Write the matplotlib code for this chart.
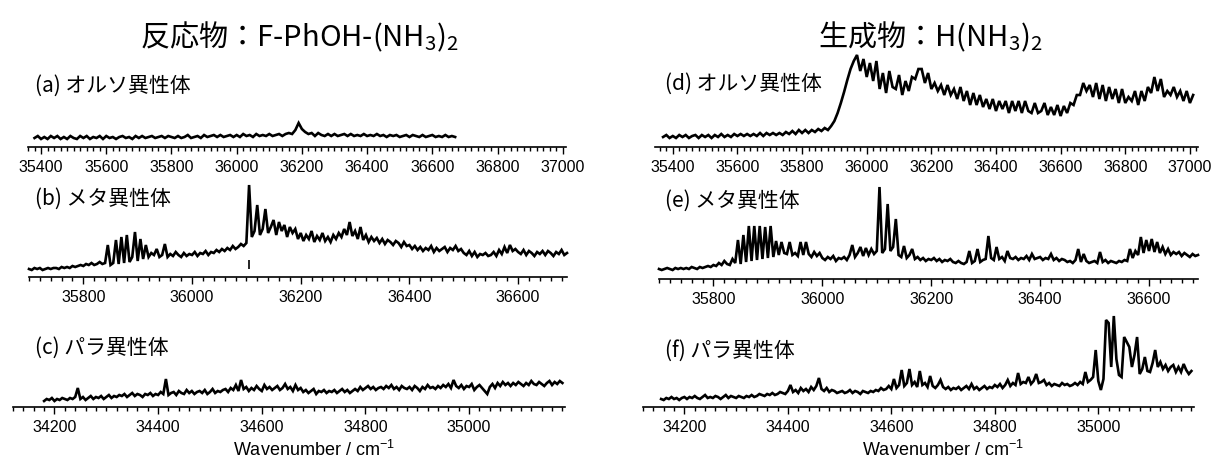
import matplotlib

matplotlib.use("Agg")

import matplotlib.pyplot as plt
import numpy as np
from matplotlib.ticker import MultipleLocator

JP = ["Noto Sans CJK JP", "DejaVu Sans"]
LAT = ["Liberation Sans", "DejaVu Sans"]

# ---- data: intensities (arbitrary units) ----
# (a) ortho, reactant
a_start, a_step = 35380, 10
a_vals = [
    9, 11, 8, 10, 8, 11, 9, 11, 8, 10,
    8, 11, 9, 8, 11, 9, 11, 8, 10, 9,
    11, 8, 11, 9, 10, 8, 10, 11, 9, 10,
    8, 11, 9, 11, 9, 10, 11, 9, 10, 11,
    9, 11, 10, 9, 11, 9, 10, 12, 9, 10,
    11, 9, 12, 10, 11, 12, 10, 12, 10, 11,
    12, 10, 12, 10, 13, 11, 12, 10, 13, 11,
    12, 11, 13, 11, 12, 13, 11, 13, 14, 13,
    17, 24, 18, 15, 13, 14, 11, 14, 12, 11,
    13, 11, 13, 11, 12, 13, 11, 13, 11, 12,
    11, 13, 11, 12, 11, 13, 11, 12, 10, 12,
    11, 12, 10, 11, 12, 10, 12, 11, 10, 12,
    10, 11, 12, 10, 11, 10, 12, 10, 11, 10,
]

# (b) meta, reactant
b_start, b_step = 35700, 5
b_vals = [
    8, 7, 9, 8, 9, 7, 8, 9, 8, 9,
    9, 8, 10, 9, 10, 9, 11, 10, 11, 12,
    11, 13, 12, 14, 12, 13, 15, 13, 14, 32,
    12, 14, 37, 13, 40, 14, 42, 15, 20, 45,
    16, 38, 18, 32, 20, 24, 22, 28, 20, 22,
    33, 20, 23, 21, 25, 22, 20, 24, 21, 23,
    22, 25, 21, 24, 23, 26, 22, 25, 24, 27,
    25, 28, 26, 29, 27, 31, 28, 30, 33, 31,
    34, 92, 40, 46, 72, 42, 48, 68, 44, 50,
    57, 42, 55, 46, 52, 40, 50, 44, 48, 38,
    44, 36, 42, 38, 46, 35, 41, 37, 44, 36,
    40, 35, 42, 38, 44, 40, 48, 42, 55, 41,
    46, 38, 50, 37, 42, 35, 40, 36, 39, 34,
    38, 33, 37, 35, 32, 36, 34, 30, 35, 31,
    32, 28, 31, 27, 30, 26, 29, 27, 31, 25,
    29, 26, 28, 30, 25, 29, 27, 31, 26, 28,
    24, 22, 26, 21, 25, 20, 23, 22, 24, 21,
    22, 25, 21, 27, 23, 30, 24, 32, 26, 28,
    25, 23, 27, 22, 26, 24, 21, 25, 23, 26,
    22, 26, 24, 21, 25, 23, 27, 22, 24,
]
b_marker = 36105

# (c) para, reactant
c_start, c_step = 34180, 5
c_vals = [
    6, 8, 7, 9, 6, 8, 7, 9, 8, 7,
    9, 8, 10, 19, 8, 10, 7, 9, 11, 8,
    10, 9, 11, 8, 10, 12, 9, 11, 10, 12,
    11, 13, 10, 12, 14, 11, 13, 12, 10, 13,
    12, 14, 11, 13, 12, 15, 13, 28, 12, 14,
    15, 12, 16, 14, 13, 17, 14, 16, 13, 15,
    16, 14, 17, 13, 15, 18, 14, 16, 15, 17,
    18, 15, 19, 17, 22, 16, 27, 18, 20, 16,
    19, 17, 21, 18, 16, 22, 18, 20, 17, 19,
    21, 17, 19, 23, 18, 20, 16, 22, 17, 19,
    15, 17, 14, 16, 18, 13, 16, 15, 17, 14,
    16, 15, 17, 14, 16, 18, 15, 17, 14, 16,
    18, 16, 20, 17, 19, 21, 18, 20, 17, 19,
    20, 18, 21, 19, 22, 18, 20, 17, 21, 19,
    18, 20, 17, 21, 19, 16, 20, 18, 22, 19,
    20, 18, 21, 19, 22, 20, 23, 19, 27, 21,
    19, 22, 18, 21, 20, 23, 17, 20, 22, 19,
    16, 13, 20, 23, 19, 24, 21, 25, 22, 24,
    21, 24, 22, 25, 23, 21, 24, 22, 26, 23,
    22, 25, 23, 21, 24, 26, 22, 25, 23, 26,
    24,
]

# (d) ortho, product
d_start, d_step = 35370, 10
d_vals = [
    10, 12, 9, 11, 9, 12, 10, 12, 9, 11,
    12, 9, 12, 10, 12, 9, 12, 10, 13, 10,
    12, 10, 13, 11, 13, 11, 13, 11, 13, 11,
    14, 11, 14, 12, 14, 12, 14, 12, 15, 13,
    16, 13, 17, 14, 17, 14, 17, 15, 18, 16,
    19, 17, 21, 26, 34, 44, 55, 67, 78, 86,
    92, 76, 88, 70, 84, 66, 86, 58, 74, 54,
    76, 60, 58, 72, 52, 66, 56, 70, 68, 78,
    78, 64, 74, 58, 64, 56, 62, 52, 62, 52,
    58, 48, 60, 46, 56, 42, 54, 42, 52, 40,
    48, 38, 48, 36, 46, 38, 46, 34, 46, 36,
    46, 34, 46, 36, 34, 44, 34, 36, 44, 32,
    40, 32, 42, 31, 41, 34, 44, 42, 52, 52,
    64, 56, 62, 50, 64, 48, 62, 46, 60, 48,
    58, 44, 58, 44, 50, 46, 56, 42, 56, 46,
    60, 54, 70, 56, 68, 50, 56, 52, 60, 50,
    56, 46, 56, 44, 52,
]

# (e) meta, product
e_start, e_step = 35700, 5
e_vals = [
    10, 9, 10, 11, 10, 9, 11, 10, 11, 10,
    11, 10, 12, 11, 10, 12, 11, 12, 13, 12,
    14, 13, 16, 14, 18, 15, 14, 20, 16, 39,
    15, 44, 17, 53, 18, 53, 19, 53, 20, 52,
    21, 53, 22, 38, 24, 37, 26, 25, 37, 24,
    26, 23, 37, 24, 37, 25, 22, 27, 23, 26,
    21, 19, 22, 20, 23, 18, 21, 20, 22, 19,
    24, 34, 22, 26, 32, 23, 31, 24, 30, 25,
    28, 92, 26, 30, 75, 28, 32, 60, 24, 22,
    33, 21, 24, 30, 20, 22, 19, 21, 18, 20,
    19, 21, 18, 20, 17, 19, 18, 20, 17, 16,
    18, 16, 15, 17, 28, 16, 18, 30, 17, 19,
    20, 43, 21, 19, 32, 20, 22, 18, 28, 21,
    20, 22, 19, 21, 20, 23, 19, 25, 20, 21,
    22, 19, 21, 20, 25, 19, 21, 18, 20, 19,
    17, 18, 16, 19, 30, 17, 25, 18, 16, 17,
    18, 16, 27, 17, 19, 16, 18, 17, 16, 18,
    17, 19, 18, 30, 21, 28, 24, 42, 26, 39,
    28, 40, 27, 37, 26, 32, 25, 30, 24, 27,
    25, 27, 23, 26, 24, 22, 25, 23, 24,
]

# (f) para, product
f_start, f_step = 34155, 5
f_vals = [
    8, 7, 9, 8, 10, 8, 9, 7, 9, 10,
    8, 10, 9, 11, 9, 8, 10, 12, 9, 10,
    9, 11, 10, 8, 10, 12, 9, 11, 10, 9,
    11, 10, 9, 11, 10, 12, 10, 11, 13, 12,
    11, 13, 12, 14, 12, 13, 15, 14, 13, 16,
    22, 15, 17, 14, 19, 16, 18, 15, 20, 17,
    21, 29, 18, 16, 19, 15, 17, 16, 14, 15,
    16, 14, 15, 17, 14, 16, 15, 13, 16, 15,
    14, 16, 15, 17, 16, 19, 17, 18, 21, 18,
    28, 19, 22, 37, 21, 24, 38, 22, 25, 20,
    36, 22, 24, 20, 31, 21, 19, 22, 27, 20,
    18, 20, 17, 19, 18, 20, 17, 19, 21, 18,
    23, 18, 20, 17, 19, 21, 18, 20, 19, 22,
    20, 23, 19, 22, 27, 21, 24, 22, 34, 23,
    25, 24, 30, 23, 26, 33, 24, 25, 27, 22,
    24, 21, 23, 22, 21, 24, 22, 23, 21, 22,
    24, 22, 25, 23, 35, 25, 27, 30, 57, 26,
    17, 28, 87, 84, 40, 91, 48, 32, 30, 70,
    65, 60, 40, 52, 70, 33, 38, 50, 36, 35,
    44, 57, 40, 45, 38, 42, 36, 40, 42, 35,
    40, 35, 43, 37, 33, 36,
]

titles = ["反応物：F-PhOH-(NH$_{\\mathregular{3}}$)$_{\\mathregular{2}}$",
          "生成物：H(NH$_{\\mathregular{3}}$)$_{\\mathregular{2}}$"]
labels = ["(a) オルソ異性体", "(b) メタ異性体", "(c) パラ異性体",
          "(d) オルソ異性体", "(e) メタ異性体", "(f) パラ異性体"]
xlabel = "Wavenumber / cm$^{\\mathregular{-1}}$"

W, H = 1214, 459


def px_axes(fig, left, right, base, top):
    return fig.add_axes([left / W, 1 - base / H, (right - left) / W, (base - top) / H])


def style(ax, xlim, height):
    ax.set_xlim(*xlim)
    ax.set_ylim(0, height)
    for s in ("left", "right", "top"):
        ax.spines[s].set_visible(False)
    ax.spines["bottom"].set_linewidth(1.2)
    ax.set_yticks([])
    ax.xaxis.set_major_locator(MultipleLocator(200))
    ax.xaxis.set_minor_locator(MultipleLocator(20))
    ax.tick_params(axis="x", which="major", length=5, width=1, pad=4, labelsize=11.5)
    ax.tick_params(axis="x", which="minor", length=3, width=1)
    for t in ax.get_xticklabels():
        t.set_family(LAT)
    ax.patch.set_alpha(0)


def spectrum(ax, start, step, vals):
    x = start + step * np.arange(len(vals))
    ax.plot(x, vals, color="black", lw=1.9, clip_on=False, solid_joinstyle="miter")


fig = plt.figure(figsize=(W / 100, H / 100), dpi=100)

panels = [
    # left, right, base, top, xlim, start, step, vals
    (28, 566, 147, 100, (35360, 37010), a_start, a_step, a_vals),
    (29, 567, 277, 176, (35700, 36690), b_start, b_step, b_vals),
    (13, 565, 407, 360, (34120, 35185), c_start, c_step, c_vals),
    (655, 1198, 147, 50, (35345, 37025), d_start, d_step, d_vals),
    (659, 1198, 279, 176, (35700, 36690), e_start, e_step, e_vals),
    (643, 1194, 407, 305, (34120, 35185), f_start, f_step, f_vals),
]
axes = []
for left, right, base, top, xlim, start, step, vals in panels:
    ax = px_axes(fig, left, right, base, top)
    style(ax, xlim, base - top)
    spectrum(ax, start, step, vals)
    axes.append(ax)

axes[1].vlines(b_marker, 8, 17, color="black", lw=1.2)

fig.text(300 / W, 1 - 37 / H, titles[0], fontsize=21, family="Noto Sans CJK JP",
         ha="center", va="center")
fig.text(930 / W, 1 - 37 / H, titles[1], fontsize=21, family="Noto Sans CJK JP",
         ha="center", va="center")

label_pos = [(35, 86), (35, 199), (35, 348), (665, 84), (665, 201), (665, 351)]
for (lx, ly), text in zip(label_pos, labels):
    fig.text(lx / W, 1 - ly / H, text, fontsize=15, family=JP, ha="left", va="center")

fig.text(314 / W, 1 - 450 / H, xlabel, fontsize=13, family=LAT, ha="center", va="center")
fig.text(943 / W, 1 - 450 / H, xlabel, fontsize=13, family=LAT, ha="center", va="center")

fig.savefig("out.png", dpi=100)
